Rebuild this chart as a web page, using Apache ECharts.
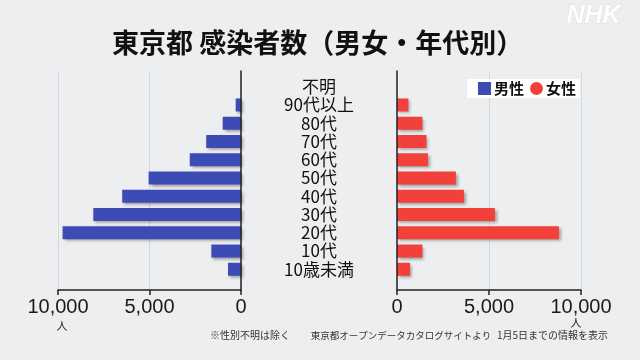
<!DOCTYPE html>
<html>
<head>
<meta charset="utf-8">
<script src="https://cdn.jsdelivr.net/npm/echarts@6/dist/echarts.min.js"></script>
<style>
html,body{margin:0;padding:0;background:#EDEEF0;}
#c{width:640px;height:360px;}
</style>
</head>
<body>
<div id="c"></div>
<script>
const categories = ['不明','90代以上','80代','70代','60代','50代','40代','30代','20代','10代','10歳未満'];
const male   = [null, 290, 1000, 1900, 2800, 5050, 6490, 8070, 9750, 1620, 710];
const female = [null, 620, 1380, 1600, 1680, 3200, 3640, 5320, 8800, 1380, 710];
const xTicks = [0, 5000, 10000];
const titleText = '東京都 感染者数（男女・年代別）';
const noteParts = ['※性別不明は除く', '東京都オープンデータカタログサイトより', '1月5日までの情報を表示'];

const JP = '"Noto Sans CJK JP", "Noto Sans", sans-serif';
const fmt = v => v.toLocaleString('en-US');
const xMin = xTicks[0], xMax = xTicks[xTicks.length - 1], xInt = xTicks[1] - xTicks[0];

const chart = echarts.init(document.getElementById('c'));

const axisX = (gi, inverse) => ({
  gridIndex: gi, type: 'value', min: xMin, max: xMax, interval: xInt, inverse: inverse,
  axisLine: { show: true, onZero: false, lineStyle: { color: '#222', width: 1.5 } },
  axisTick: { show: true, length: 5, lineStyle: { color: '#222', width: 1.5 } },
  axisLabel: { formatter: fmt, fontSize: 20, color: '#1a1a1a', margin: 7, fontFamily: '"Liberation Sans", Arial, sans-serif' },
  splitLine: { show: true, lineStyle: { color: '#D3D6DA', width: 1 } }
});
const hiddenX = (gi, inverse) => ({
  gridIndex: gi, type: 'value', min: xMin, max: xMax, inverse: inverse, show: false
});
const lineY = (gi, pos) => ({
  gridIndex: gi, type: 'value', min: 0, max: 1, position: pos,
  axisLine: { show: true, lineStyle: { color: '#222', width: 1.5 } },
  axisTick: { show: false }, axisLabel: { show: false }, splitLine: { show: false },
  z: 4
});

const barStyle = color => ({
  color: color,
  shadowColor: 'rgba(0,0,0,0.35)', shadowBlur: 3, shadowOffsetX: 2, shadowOffsetY: 2
});

chart.setOption({
  backgroundColor: '#EDEEF0',
  animation: false,
  title: {
    text: titleText, left: 107, top: 24,
    textStyle: { fontFamily: JP, fontSize: 27, fontWeight: 'bold', color: '#111' }
  },
  legend: {
    data: [{ name: '男性', icon: 'rect' }, { name: '女性', icon: 'circle' }],
    left: 467, top: 79,
    backgroundColor: '#ffffff',
    padding: [2, 4, 2, 11],
    itemWidth: 13, itemHeight: 13, itemGap: 6,
    itemStyle: { shadowBlur: 0, shadowOffsetX: 0, shadowOffsetY: 0 },
    textStyle: { fontFamily: JP, fontSize: 15, fontWeight: 'bold', color: '#111', padding: [0, 0, 0, -2] }
  },
  grid: [
    { left: 58, right: 399, top: 71, bottom: 70 },
    { left: 58, right: 399, top: 77.6, bottom: 81.6 },
    { left: 397, right: 59, top: 71, bottom: 70 },
    { left: 397, right: 59, top: 77.6, bottom: 81.6 }
  ],
  xAxis: [
    axisX(0, true),
    hiddenX(1, true),
    axisX(2, false),
    hiddenX(3, false)
  ],
  yAxis: [
    lineY(0, 'right'),
    {
      gridIndex: 1, type: 'category', data: categories, inverse: true, position: 'right',
      axisLine: { show: false }, axisTick: { show: false }, splitLine: { show: false },
      axisLabel: { show: true, interval: 0, margin: 78, align: 'center', fontFamily: JP, fontSize: 17, color: '#111' }
    },
    lineY(2, 'left'),
    {
      gridIndex: 3, type: 'category', data: categories, inverse: true, show: false
    }
  ],
  series: [
    { name: '男性', type: 'bar', xAxisIndex: 1, yAxisIndex: 1, data: male, barWidth: 13, itemStyle: barStyle('#3D4BB5') },
    { name: '女性', type: 'bar', xAxisIndex: 3, yAxisIndex: 3, data: female, barWidth: 13, itemStyle: barStyle('#F2403A') }
  ],
  graphic: [
    { type: 'text', left: 566, top: 3, style: { text: 'NHK', fontFamily: '"Liberation Sans", Arial, sans-serif', fontSize: 25, fontWeight: 'bold', fontStyle: 'italic', fill: '#ffffff', stroke: '#dcdde0', lineWidth: 1 } },
    { type: 'text', x: 62, y: 326, style: { text: '人', fontFamily: JP, fontSize: 11, fill: '#222', align: 'center', verticalAlign: 'middle' } },
    { type: 'text', x: 576, y: 323, style: { text: '人', fontFamily: JP, fontSize: 11, fill: '#222', align: 'center', verticalAlign: 'middle' } },
    { type: 'text', x: 210, y: 335, style: { text: noteParts[0], fontFamily: JP, fontSize: 10, fill: '#333', align: 'left', verticalAlign: 'middle' } },
    { type: 'text', x: 401, y: 335, style: { text: noteParts[1], fontFamily: JP, fontSize: 9.5, fill: '#333', align: 'center', verticalAlign: 'middle' } },
    { type: 'text', x: 608, y: 335, style: { text: noteParts[2], fontFamily: JP, fontSize: 10, fill: '#333', align: 'right', verticalAlign: 'middle' } }
  ]
});
</script>
</body>
</html>
